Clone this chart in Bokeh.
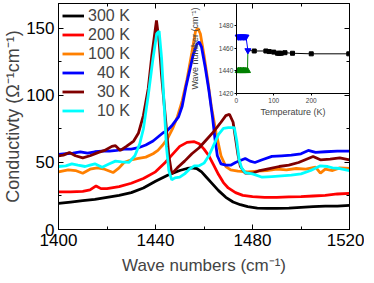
from bokeh.plotting import figure
from bokeh.models import Range1d, LinearAxis, FixedTicker, Legend, LegendItem
from bokeh.embed import file_html
from bokeh.resources import INLINE

# ---------------- main spectra (wave number, conductivity) ----------------
w_300 = [1400, 1405, 1410, 1415, 1420, 1425, 1430, 1435, 1440, 1445, 1450, 1453, 1455, 1457, 1459,
         1461, 1463, 1466, 1469, 1472, 1475, 1478, 1482, 1486, 1490, 1495, 1500, 1505, 1510, 1515, 1520]
s_300 = [19.5, 20.5, 21.5, 22.5, 24, 25.5, 27.5, 31, 36, 40.5, 44, 45.5, 46, 45.5, 43,
         39, 35, 29, 24, 20.5, 18.5, 17, 16, 15.8, 15.8, 16, 16.5, 17, 17.5, 17.5, 18]

w_200 = [1400, 1405, 1410, 1413, 1415.5, 1417.5, 1420, 1425, 1430, 1435, 1440, 1444, 1447, 1450, 1453,
         1456, 1458, 1460, 1462, 1464, 1466, 1468, 1470, 1473, 1476, 1480, 1485, 1490, 1495, 1500,
         1505, 1510, 1515, 1520]
s_200 = [28, 28, 28.5, 29.5, 32.5, 30.5, 30.5, 32, 34.5, 38, 43, 50, 56, 62, 65,
         65.5, 64, 60, 55, 48, 41, 35, 31, 27.5, 25.5, 24.5, 24, 24, 24.3, 24.5,
         25, 25.5, 26.5, 27]

w_100 = [1400, 1404, 1407, 1410, 1413, 1416, 1419, 1422.5, 1425, 1427, 1430, 1433, 1436, 1439, 1441,
         1443, 1445, 1447, 1449, 1451, 1453, 1455, 1456.5, 1457.5, 1458.5, 1460, 1461.5, 1463, 1465,
         1467, 1469, 1471, 1474, 1478, 1482, 1486, 1490, 1494, 1498, 1502, 1506, 1508, 1510, 1513,
         1516, 1520]
s_100 = [43, 44.5, 44, 42, 45, 46, 45, 42.5, 46, 50, 52, 53, 54, 56.5, 59,
         63, 68, 75, 84, 96, 112, 132, 148, 150, 146, 130, 112, 92, 72,
         55, 47, 44.5, 43.5, 43, 43.5, 44, 45, 44.5, 45.5, 45, 46.5, 42, 45, 44,
         46, 45.5]

w_40 = [1400, 1403, 1406, 1409, 1412, 1415, 1418, 1421, 1424, 1427, 1430, 1433, 1436, 1439, 1441,
        1443, 1445, 1447, 1449.5, 1451, 1452.5, 1454, 1455.5, 1457, 1458, 1459, 1460.5, 1462, 1463.5,
        1464.5, 1465.5, 1467, 1469, 1471, 1473, 1475, 1477, 1479, 1481, 1484, 1488, 1492, 1496, 1500,
        1503, 1506, 1510, 1515, 1520]
s_40 = [56, 56.5, 57, 58, 57, 58, 58.5, 58.5, 59, 60, 60, 61, 63, 66, 69,
        72, 74, 78, 84, 92, 106, 118, 130, 138, 140, 136, 121, 104, 84,
        68, 55, 49, 48, 48, 50, 51.5, 53, 51, 50, 52, 54.5, 55, 55.5, 56.5,
        59, 57.5, 58, 58.5, 58.5]

w_30 = [1400, 1402, 1404.5, 1407, 1410, 1413, 1416.5, 1419, 1422, 1423.5, 1425.5, 1428, 1431, 1433, 1435,
        1437, 1438.5, 1440.4, 1441.5, 1442.5, 1443.5, 1444.5, 1445.5, 1446.7, 1449, 1452, 1455, 1458,
        1461, 1464, 1467, 1469, 1470.5, 1472, 1473, 1474, 1475, 1477, 1480, 1483, 1487, 1491, 1495,
        1499, 1503, 1505, 1508, 1512, 1516, 1520]
s_30 = [55, 55.5, 57.5, 55, 53.5, 55, 57.5, 59, 62, 62.5, 59, 62, 66, 72, 85,
        105, 130, 156, 140, 115, 95, 75, 55, 41.5, 46, 51, 56.5, 61,
        67, 73, 80, 85, 86, 80, 68, 56, 47, 42, 42, 44, 45.5, 47, 48,
        50, 53, 54.5, 52, 52.5, 53.5, 52]

w_10 = [1400, 1403, 1405.5, 1408, 1411, 1413, 1415, 1418, 1421, 1423.5, 1426, 1429, 1431.5, 1433.5, 1435,
        1437, 1439, 1440.5, 1441.5, 1442.5, 1443.5, 1444.5, 1445.5, 1446.7, 1448, 1450, 1452, 1454, 1456,
        1458, 1460, 1462, 1464, 1466, 1468, 1470, 1472.5, 1473.5, 1474.5, 1475.5, 1477, 1480, 1484, 1488,
        1492, 1496, 1500, 1504, 1508, 1511, 1513, 1516, 1520]
s_10 = [47, 47.5, 49, 48, 47, 48, 49, 46.5, 49, 51, 50.5, 50, 55, 64, 75,
        100, 128, 146, 148, 128, 95, 62, 44, 37, 38.5, 39, 41.5, 45, 47.5,
        47.5, 49.5, 55, 63, 71, 75.5, 76, 76, 66, 52, 46, 42.5, 41.5, 39, 39.5,
        40, 40.5, 41.5, 44, 47.5, 47, 46, 45.5, 44]

# legend labels (figure space U+2007 keeps the labels right-aligned as in the original)
labels = ["300 K", "200 K", "100 K", "\u200740 K", "\u200730 K", "\u200710 K"]
colors = ["#000000", "#ff0000", "#ff8000", "#0000ff", "#800000", "#00ffff"]

# ---------------- inset (temperature, peak position) ----------------
t_hi = [5, 7, 10, 12, 15, 18, 20, 23, 26]
k_hi = [1470, 1470, 1470, 1470, 1470, 1470, 1470, 1470, 1470]
t_lo = [5, 7, 10, 12, 15, 18, 20, 23, 26, 30]
k_lo = [1440, 1440, 1440, 1440, 1440, 1440, 1440, 1440, 1440, 1440]
t_mid = [31]
k_mid = [1458]
t_sq = [48, 79, 88, 100, 110, 115, 120, 130, 150, 200, 300]
k_sq = [1457.5, 1457.5, 1457, 1456.5, 1455.5, 1455.5, 1455.5, 1456, 1455.5, 1455, 1455]

FONT = "Liberation Sans"

p = figure(frame_width=291, frame_height=226,
           x_range=Range1d(1400, 1520), y_range=Range1d(0, 168.6),
           output_backend="svg", toolbar_location=None,
           min_border_left=52, min_border_right=15, min_border_top=3, min_border_bottom=0,
           background_fill_color="white", border_fill_color="white")
p.extra_x_ranges = {"tx": Range1d(-474, 302)}
p.extra_y_ranges = {"wy": Range1d(1300, 1499.4)}
p.grid.visible = False
p.outline_line_color = "black"
p.outline_line_width = 1

xt = FixedTicker(ticks=[1400, 1440, 1480, 1520], minor_ticks=[1420, 1460, 1500])
yt = FixedTicker(ticks=[0, 50, 100, 150], minor_ticks=[25, 75, 125])

def style_axis(ax, labels_on=True):
    ax.major_tick_in = 5
    ax.major_tick_out = 0
    ax.minor_tick_in = 3
    ax.minor_tick_out = 0
    ax.axis_line_color = "black"
    ax.major_tick_line_color = "black"
    ax.minor_tick_line_color = "black"
    ax.major_label_text_font = FONT
    ax.axis_label_text_font = FONT
    ax.axis_label_text_font_style = "normal"
    if labels_on:
        ax.major_label_text_font_size = "17px"
        ax.major_label_text_color = "black"
    else:
        ax.major_label_text_font_size = "1px"
        ax.major_label_text_color = None
        ax.major_label_standoff = 0

xa = p.xaxis[0]
xa.ticker = xt
style_axis(xa)
xa.major_label_standoff = 4
xa.axis_label = "Wave numbers (cm⁻¹)"
xa.axis_label_text_font_size = "17px"
xa.axis_label_standoff = 7

ya = p.yaxis[0]
ya.ticker = yt
style_axis(ya)
ya.major_label_standoff = 4
ya.axis_label = "Conductivty (Ω⁻¹cm⁻¹)"
ya.axis_label_text_font_size = "18px"
ya.axis_label_standoff = 0

top = LinearAxis(ticker=xt)
style_axis(top, labels_on=False)
p.add_layout(top, "above")
right = LinearAxis(ticker=yt)
style_axis(right, labels_on=False)
p.add_layout(right, "right")

# main curves
series = [(w_300, s_300), (w_200, s_200), (w_100, s_100), (w_40, s_40), (w_30, s_30), (w_10, s_10)]
rends = []
for (w, s), c in zip(series, colors):
    rends.append(p.line(w, s, line_color=c, line_width=2.8))

legend = Legend(items=[LegendItem(label=l, renderers=[r]) for l, r in zip(labels, rends)],
                location=(4, 109), orientation="vertical",
                glyph_width=22, glyph_height=19, label_height=19,
                label_standoff=4, spacing=0, padding=0, margin=0,
                border_line_color=None, background_fill_alpha=0,
                label_text_font=FONT, label_text_font_size="16px")
p.add_layout(legend)

# inset
ix = LinearAxis(x_range_name="tx", y_range_name="wy", fixed_location=1420, bounds=(0, 302),
                ticker=FixedTicker(ticks=[0, 100, 200], minor_ticks=[50, 150, 250]))
ix.major_tick_in = 0
ix.major_tick_out = 2
ix.minor_tick_in = 0
ix.minor_tick_out = 0
ix.major_label_standoff = 3
ix.major_label_text_font = FONT
ix.major_label_text_font_size = "6.5px"
ix.axis_label = "Temperature (K)"
ix.axis_label_text_font = FONT
ix.axis_label_text_font_style = "normal"
ix.axis_label_text_font_size = "9px"
ix.axis_label_standoff = 0
p.add_layout(ix, "below")

iy = LinearAxis(x_range_name="tx", y_range_name="wy", fixed_location=0, bounds=(1420, 1499.4),
                ticker=FixedTicker(ticks=[1420, 1440, 1460, 1480], minor_ticks=[]))
iy.major_tick_in = 0
iy.major_tick_out = 2
iy.minor_tick_in = 0
iy.minor_tick_out = 0
iy.major_label_standoff = 1
iy.major_label_text_font = FONT
iy.major_label_text_font_size = "6.5px"
iy.axis_label = "Wave number (cm⁻¹)"
iy.axis_label_text_font = FONT
iy.axis_label_text_font_style = "normal"
iy.axis_label_text_font_size = "9px"
iy.axis_label_standoff = 16
p.add_layout(iy, "left")

kw = dict(x_range_name="tx", y_range_name="wy")
p.line(t_hi + t_mid, k_hi + k_mid, line_color="#0000ff", line_width=1, **kw)
p.line(t_lo + t_mid, k_lo + k_mid, line_color="#008000", line_width=1, **kw)
p.line(t_mid + t_sq, k_mid + k_sq, line_color="#000000", line_width=1, **kw)
p.scatter(t_lo, k_lo, marker="triangle", size=6, color="#008000", **kw)
p.scatter(t_hi + t_mid, k_hi + k_mid, marker="inverted_triangle", size=6, color="#0000ff", **kw)
p.scatter(t_sq, k_sq, marker="square", size=4, color="#000000", **kw)

open("out.html", "w").write(file_html(p, INLINE))
